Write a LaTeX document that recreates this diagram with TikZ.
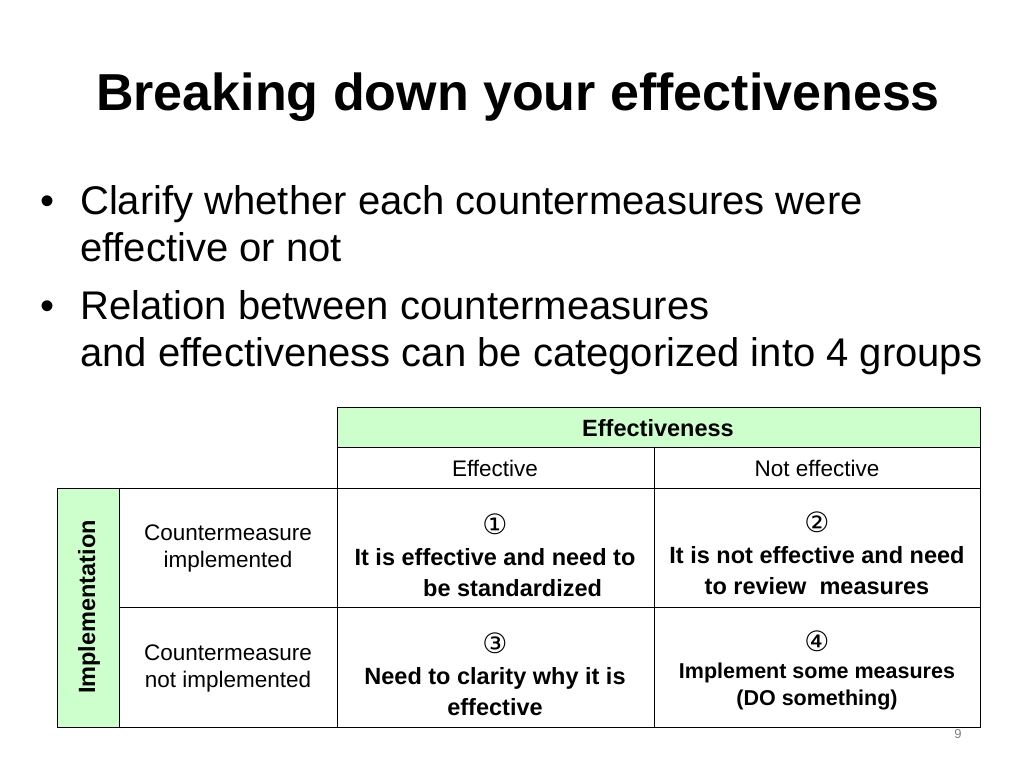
\documentclass[tikz,border=0pt]{standalone}
\usepackage{fontspec}
\setmainfont{Liberation Sans}
\newfontfamily\symfont{DejaVu Sans}
\definecolor{hdrgreen}{RGB}{204,255,204}
\newcommand{\circnum}[1]{{\fontsize{28}{30}\selectfont\mdseries\symfont #1}}
\begin{document}
\begin{tikzpicture}[x=1pt,y=-1pt,
  cellline/.style={draw=black,line width=0.8pt},
  txt/.style={align=center,font=\fontsize{22.5}{27}\selectfont},
  bold/.style={align=center,font=\fontsize{23.5}{31}\selectfont\bfseries},
  bul/.style={anchor=base west,inner sep=0pt,font=\fontsize{40}{44}\selectfont}]
\useasboundingbox (0,0) rectangle (1024,768);
\fill[white] (0,0) rectangle (1024,768);
\node[font=\fontsize{52}{58}\selectfont\bfseries] (title) at (518,97) {Breaking down your effectiveness};
\node[bul] (b1) at (40,214) {•};
\node[bul] (t1) at (80,214) {Clarify whether each countermeasures were};
\node[bul] (t1b) at (80,261) {effective or not};
\node[bul] (b2) at (40,319) {•};
\node[bul] (t2) at (80,319) {Relation between countermeasures};
\node[bul] (t2b) at (80,366) {and effectiveness can be categorized into 4 groups};
% fills
\fill[hdrgreen] (337,407) rectangle (980,447);
\fill[hdrgreen] (57,488) rectangle (119,727);
% grid
\draw[cellline] (337,407) rectangle (980,447);
\draw[cellline] (337,447) rectangle (980,488);
\draw[cellline] (654,447) -- (654,727);
\draw[cellline] (57,488) rectangle (980,727);
\draw[cellline] (119,488) -- (119,727);
\draw[cellline] (337,488) -- (337,727);
\draw[cellline] (119,607) -- (980,607);
% texts
\node[bold] (eff) at (658,428) {Effectiveness};
\node[txt] (c1) at (495,468) {Effective};
\node[txt] (c2) at (817,468) {Not effective};
\node[bold,rotate=90] (impl) at (89,607) {Implementation};
\node[txt] (r1) at (228,548) {Countermeasure\\implemented};
\node[txt] (r2) at (228,668) {Countermeasure\\not implemented};
\node[bold] (q1) at (495,555) {\circnum{①}\\It is effective and need to\\\hspace*{1.5em}be standardized};
\node[bold] (q2) at (817,553) {\circnum{②}\\It is not effective and need\\to review\ \ measures};
\node[bold] (q3) at (495,674) {\circnum{③}\\Need to clarity why it is\\effective};
\node[bold,font=\fontsize{21.5}{27}\selectfont\bfseries] (q4) at (817,670) {\circnum{④}\\Implement some measures\\(DO something)};
\node[font=\fontsize{13}{14}\selectfont,text=gray] (pg) at (958,734) {9};
\end{tikzpicture}
\end{document}
